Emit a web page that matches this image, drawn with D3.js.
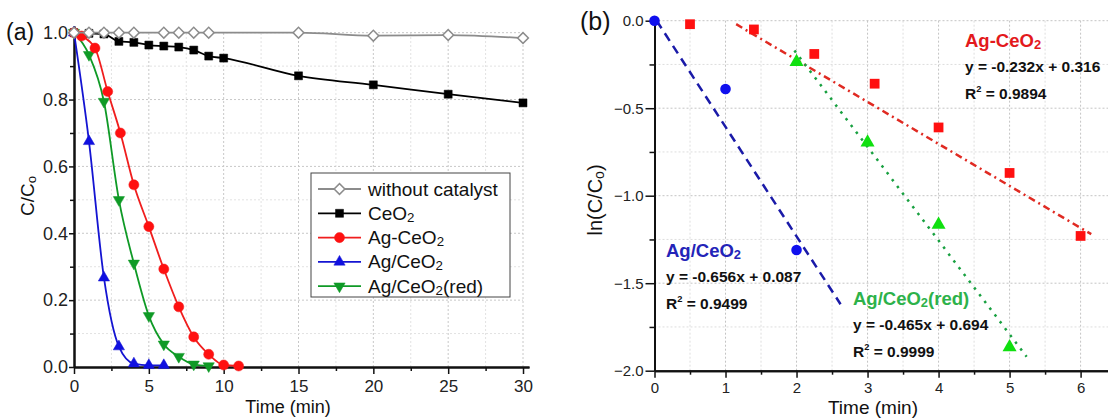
<!DOCTYPE html>
<html>
<head>
<meta charset="utf-8">
<script src="https://cdn.jsdelivr.net/npm/d3@7"></script>
<style>
  body { margin: 0; background: #fff; }
  svg { display: block; font-family: "Liberation Sans", Arial, sans-serif; }
</style>
</head>
<body>
<div id="chart"></div>
<script>
// ---- panel (a) data: C/Co vs time ----
const tNoCat = [0, 1, 2, 3, 4, 6, 7, 8, 9, 15, 20, 25, 30];
const cNoCat = [1.0, 1.0, 1.0, 1.0, 1.0, 1.0, 1.0, 1.0, 1.0, 1.0, 0.991, 0.993, 0.984];

const tCeO2 = [0, 1, 2, 3, 4, 5, 6, 7, 8, 9, 10, 15, 20, 25, 30];
const cCeO2 = [1.0, 0.998, 0.996, 0.974, 0.971, 0.963, 0.96, 0.957, 0.948, 0.93, 0.924, 0.871, 0.844, 0.816, 0.79];

const tAgCeO2 = [0, 0.5, 1.4, 2.25, 3.1, 4, 5, 6, 7, 8, 9, 10, 11];
const cAgCeO2 = [1.0, 0.99, 0.954, 0.824, 0.70, 0.545, 0.42, 0.293, 0.18, 0.09, 0.038, 0.006, 0.003];

const tAgSup = [0, 1, 2, 3, 4, 5, 6];
const cAgSup = [1.0, 0.675, 0.267, 0.061, 0.01, 0.005, 0.005];

const tAgRed = [0, 1, 2, 3, 4, 5, 6, 7, 8, 9];
const cAgRed = [1.0, 0.934, 0.794, 0.50, 0.31, 0.153, 0.068, 0.031, 0.008, 0.003];

const xTicksA = [0, 5, 10, 15, 20, 25, 30];
const yTicksA = [0.0, 0.2, 0.4, 0.6, 0.8, 1.0];

// ---- panel (b) data: ln(C/Co) vs time ----
const lnTAgCeO2 = [0.5, 1.4, 2.25, 3.1, 4, 5, 6];
const lnAgCeO2 = [-0.02, -0.05, -0.19, -0.36, -0.61, -0.87, -1.23];
const lnTAgSup = [0, 1, 2];
const lnAgSup = [0.0, -0.39, -1.31];
const lnTAgRed = [2, 3, 4, 5];
const lnAgRed = [-0.23, -0.69, -1.16, -1.86];

// fitted lines as drawn (start / end points)
const fitAgCeO2 = [[1.15, -0.02], [6.15, -1.22]];
const fitAgSup = [[0.03, 0.0], [2.62, -1.62]];
const fitAgRed = [[1.97, -0.17], [5.24, -1.92]];

const eqAgCeO2 = ["y = -0.232x + 0.316", "0.9894"];
const eqAgSup = ["y = -0.656x + 0.087", "0.9499"];
const eqAgRed = ["y = -0.465x + 0.694", "0.9999"];

const xTicksB = [0, 1, 2, 3, 4, 5, 6];
const yTicksB = [-2.0, -1.5, -1.0, -0.5, 0.0];

const W = 1108, H = 418;
const svg = d3.select("#chart").append("svg").attr("width", W).attr("height", H);

function zip(xs, ys) { return xs.map((x, i) => [x, ys[i]]); }

// renders "CeO2" style names with a small subscript 2
function subText(sel, str) {
  const parts = str.split("CeO2");
  let back = 0;
  parts.forEach((p, i) => {
    if (p) { sel.append("tspan").attr("dy", back || null).text(p); back = 0; }
    if (i < parts.length - 1) {
      sel.append("tspan").attr("dy", back || null).text("CeO");
      sel.append("tspan").attr("font-size", "0.7em").attr("dy", 2).text("2");
      back = -2;
    }
  });
}

// ================= panel (a) =================
const xA = d3.scaleLinear().domain([0, 30.4]).range([74, 529]);
const yA = d3.scaleLinear().domain([0, 1.02]).range([367, 26]);

const gA = svg.append("g");

// grid (minor lighter, major darker)
const gxA = d3.range(2.5, 30.01, 2.5);
const gyA = d3.range(0.1, 1.001, 0.1);
gA.selectAll(".gvx").data(gxA).enter().append("line")
  .attr("x1", d => xA(d)).attr("x2", d => xA(d))
  .attr("y1", yA(0)).attr("y2", yA(1.0))
  .attr("stroke", (d, i) => i % 2 ? "#c8c8c8" : "#e2e2e2")
  .attr("stroke-dasharray", "2,2");
gA.selectAll(".ghy").data(gyA).enter().append("line")
  .attr("y1", d => yA(d)).attr("y2", d => yA(d))
  .attr("x1", xA(0)).attr("x2", xA(30))
  .attr("stroke", (d, i) => i % 2 ? "#c8c8c8" : "#e2e2e2")
  .attr("stroke-dasharray", "2,2");

// axes
function styleAxis(g, fs) {
  g.selectAll("path.domain").attr("stroke", "#111").attr("stroke-width", 2);
  g.selectAll(".tick line").attr("stroke", "#111").attr("stroke-width", 1.5);
  g.selectAll(".tick text").attr("font-size", fs).attr("fill", "#222")
    .attr("font-family", "'Liberation Sans', Arial, sans-serif");
}

gA.append("g").attr("transform", `translate(0,${yA(0)})`)
  .call(d3.axisBottom(xA).tickValues(d3.range(2.5, 30, 5)).tickSize(4).tickFormat("").tickSizeOuter(0))
  .call(g => styleAxis(g, 17));
gA.append("g").attr("transform", `translate(0,${yA(0)})`)
  .call(d3.axisBottom(xA).tickValues(xTicksA).tickSize(7).tickPadding(6).tickFormat(d3.format("d")).tickSizeOuter(0))
  .call(g => styleAxis(g, 17));
gA.append("g").attr("transform", `translate(${xA(0)},0)`)
  .call(d3.axisLeft(yA).tickValues(d3.range(0.1, 1.0, 0.2)).tickSize(4).tickFormat("").tickSizeOuter(0))
  .call(g => styleAxis(g, 18));
gA.append("g").attr("transform", `translate(${xA(0)},0)`)
  .call(d3.axisLeft(yA).tickValues(yTicksA).tickSize(5).tickPadding(1).tickFormat(d3.format(".1f")).tickSizeOuter(0))
  .call(g => styleAxis(g, 18));

// series (gray one drawn last so its open diamonds sit on top)
const seriesA = [
  { name: "without catalyst", t: tNoCat, c: cNoCat, color: "#8c8c8c", fill: "#fff", sym: d3.symbolSquare, size: 58, rot: 45 },
  { name: "CeO2", t: tCeO2, c: cCeO2, color: "#000", fill: "#000", sym: d3.symbolSquare, size: 64, rot: 0 },
  { name: "Ag-CeO2", t: tAgCeO2, c: cAgCeO2, color: "#f01e1e", fill: "#ff1010", sym: d3.symbolCircle, size: 80, rot: 0 },
  { name: "Ag/CeO2", t: tAgSup, c: cAgSup, color: "#1414d2", fill: "#1010e0", sym: d3.symbolTriangle, size: 55, rot: 0 },
  { name: "Ag/CeO2(red)", t: tAgRed, c: cAgRed, color: "#0f9a26", fill: "#0f9a26", sym: d3.symbolTriangle, size: 55, rot: 180 }
];
const drawOrder = [1, 4, 3, 2, 0];

const lineA = d3.line().x(d => xA(d[0])).y(d => yA(d[1])).curve(d3.curveMonotoneX);

drawOrder.forEach(k => {
  const s = seriesA[k];
  const pts = zip(s.t, s.c);
  gA.append("path").datum(pts)
    .attr("fill", "none").attr("stroke", s.color).attr("stroke-width", 1.8)
    .attr("d", lineA);
  gA.selectAll(null).data(pts).enter().append("path")
    .attr("d", d3.symbol().type(s.sym).size(s.size))
    .attr("transform", d => `translate(${xA(d[0])},${yA(d[1])}) rotate(${s.rot})`)
    .attr("fill", s.fill).attr("stroke", s.color).attr("stroke-width", s.fill === "#fff" ? 1.5 : 0.5);
});

// legend
const leg = gA.append("g").attr("transform", "translate(311,173)");
leg.append("rect").attr("width", 199).attr("height", 124)
  .attr("fill", "#fff").attr("stroke", "#444").attr("stroke-width", 1);
seriesA.forEach((s, i) => {
  const cy = 16 + i * 24.3;
  leg.append("line").attr("x1", 7).attr("x2", 50).attr("y1", cy).attr("y2", cy)
    .attr("stroke", s.color).attr("stroke-width", 1.8);
  leg.append("path").attr("d", d3.symbol().type(s.sym).size(s.size))
    .attr("transform", `translate(28.5,${cy}) rotate(${s.rot})`)
    .attr("fill", s.fill).attr("stroke", s.color).attr("stroke-width", s.fill === "#fff" ? 1.5 : 0.5);
  const tx = leg.append("text").attr("x", 57).attr("y", cy + 6.5).attr("font-size", 19).attr("fill", "#111");
  subText(tx, s.name);
});

// labels
svg.append("text").attr("x", 6).attr("y", 40).attr("font-size", 23).attr("fill", "#111").text("(a)");
svg.append("text").attr("x", 288).attr("y", 412.5).attr("text-anchor", "middle")
  .attr("font-size", 18).attr("fill", "#111").text("Time (min)");
const ytA = svg.append("text").attr("transform", "translate(34,196) rotate(-90)")
  .attr("text-anchor", "middle").attr("font-size", 19).attr("fill", "#111");
ytA.append("tspan").text("C/C");
ytA.append("tspan").attr("font-size", "0.7em").attr("dy", 2).text("o");

// ================= panel (b) =================
const xB = d3.scaleLinear().domain([0, 6.4]).range([654.5, 1109]);
const yB = d3.scaleLinear().domain([-2, 0]).range([370.7, 20.7]);
const gB = svg.append("g");

const gxB = d3.range(0.5, 6.01, 0.5);
const gyB = d3.range(-1.75, 0.01, 0.25);
gB.selectAll(".gvx").data(gxB).enter().append("line")
  .attr("x1", d => xB(d)).attr("x2", d => xB(d))
  .attr("y1", yB(-2)).attr("y2", yB(0))
  .attr("stroke", (d, i) => i % 2 ? "#c4c4c4" : "#dedede")
  .attr("stroke-dasharray", "2,2");
gB.selectAll(".ghy").data(gyB).enter().append("line")
  .attr("y1", d => yB(d)).attr("y2", d => yB(d))
  .attr("x1", xB(0)).attr("x2", 1108)
  .attr("stroke", (d, i) => i % 2 ? "#c4c4c4" : "#dedede")
  .attr("stroke-dasharray", "2,2");

gB.append("g").attr("transform", `translate(0,${yB(-2)})`)
  .call(d3.axisBottom(xB).tickValues(d3.range(0.5, 6.4, 1)).tickSize(4).tickFormat("").tickSizeOuter(0))
  .call(g => styleAxis(g, 15));
gB.append("g").attr("transform", `translate(0,${yB(-2)})`)
  .call(d3.axisBottom(xB).tickValues(xTicksB).tickSize(7).tickPadding(5).tickFormat(d3.format("d")).tickSizeOuter(0))
  .call(g => styleAxis(g, 15));
gB.append("g").attr("transform", `translate(${xB(0)},0)`)
  .call(d3.axisLeft(yB).tickValues(d3.range(-1.75, 0, 0.5)).tickSize(5).tickFormat("").tickSizeOuter(0))
  .call(g => styleAxis(g, 15));
gB.append("g").attr("transform", `translate(${xB(0)},0)`)
  .call(d3.axisLeft(yB).tickValues(yTicksB).tickSize(9).tickPadding(2).tickFormat(d3.format(".1f")).tickSizeOuter(0))
  .call(g => styleAxis(g, 15));

// fit lines
const lineB = d3.line().x(d => xB(d[0])).y(d => yB(d[1]));
gB.append("path").datum(fitAgSup).attr("d", lineB).attr("fill", "none")
  .attr("stroke", "#1a1aa8").attr("stroke-width", 2.5).attr("stroke-dasharray", "9,6");
gB.append("path").datum(fitAgCeO2).attr("d", lineB).attr("fill", "none")
  .attr("stroke", "#e02a22").attr("stroke-width", 2.5).attr("stroke-dasharray", "7,4,2,4");
gB.append("path").datum(fitAgRed).attr("d", lineB).attr("fill", "none")
  .attr("stroke", "#18a040").attr("stroke-width", 2.5).attr("stroke-dasharray", "2.5,6");

// points
gB.selectAll(".ptr").data(zip(lnTAgCeO2, lnAgCeO2)).enter().append("path")
  .attr("d", d3.symbol().type(d3.symbolSquare).size(95))
  .attr("transform", d => `translate(${xB(d[0])},${yB(d[1])})`).attr("fill", "#ff1010");
gB.selectAll(".ptb").data(zip(lnTAgSup, lnAgSup)).enter().append("path")
  .attr("d", d3.symbol().type(d3.symbolCircle).size(88))
  .attr("transform", d => `translate(${xB(d[0])},${yB(d[1])})`).attr("fill", "#1010ee");
gB.selectAll(".ptg").data(zip(lnTAgRed, lnAgRed)).enter().append("path")
  .attr("d", d3.symbol().type(d3.symbolTriangle).size(85))
  .attr("transform", d => `translate(${xB(d[0])},${yB(d[1]) + 1})`).attr("fill", "#10e010");

// annotations
function annot(x, y, name, color, eq) {
  const t = gB.append("text").attr("x", x).attr("y", y).attr("font-size", 18.5)
    .attr("font-weight", "bold").attr("fill", color);
  subText(t, name);
  gB.append("text").attr("x", x).attr("y", y + 24.5).attr("font-size", 15.5)
    .attr("font-weight", "bold").attr("fill", "#111").text(eq[0]);
  const r = gB.append("text").attr("x", x).attr("y", y + 52).attr("font-size", 15.5)
    .attr("font-weight", "bold").attr("fill", "#111");
  r.append("tspan").text("R");
  r.append("tspan").attr("font-size", "0.6em").attr("dy", -7).text("2");
  r.append("tspan").attr("dy", 7).text(" = " + eq[1]);
}
annot(965, 47, "Ag-CeO2", "#e3191c", eqAgCeO2);
annot(666, 257, "Ag/CeO2", "#2424b8", eqAgSup);
annot(853, 305, "Ag/CeO2(red)", "#2db24a", eqAgRed);

svg.append("text").attr("x", 580).attr("y", 30).attr("font-size", 25).attr("fill", "#111").text("(b)");
svg.append("text").attr("x", 873).attr("y", 413.5).attr("text-anchor", "middle")
  .attr("font-size", 19).attr("fill", "#111").text("Time (min)");
const ytB = svg.append("text").attr("transform", "translate(602,200) rotate(-90)")
  .attr("text-anchor", "middle").attr("font-size", 20).attr("fill", "#111");
ytB.append("tspan").text("ln(C/C");
ytB.append("tspan").attr("font-size", "0.7em").attr("dy", 2).text("o");
ytB.append("tspan").attr("dy", -2).text(")");
</script>
</body>
</html>
